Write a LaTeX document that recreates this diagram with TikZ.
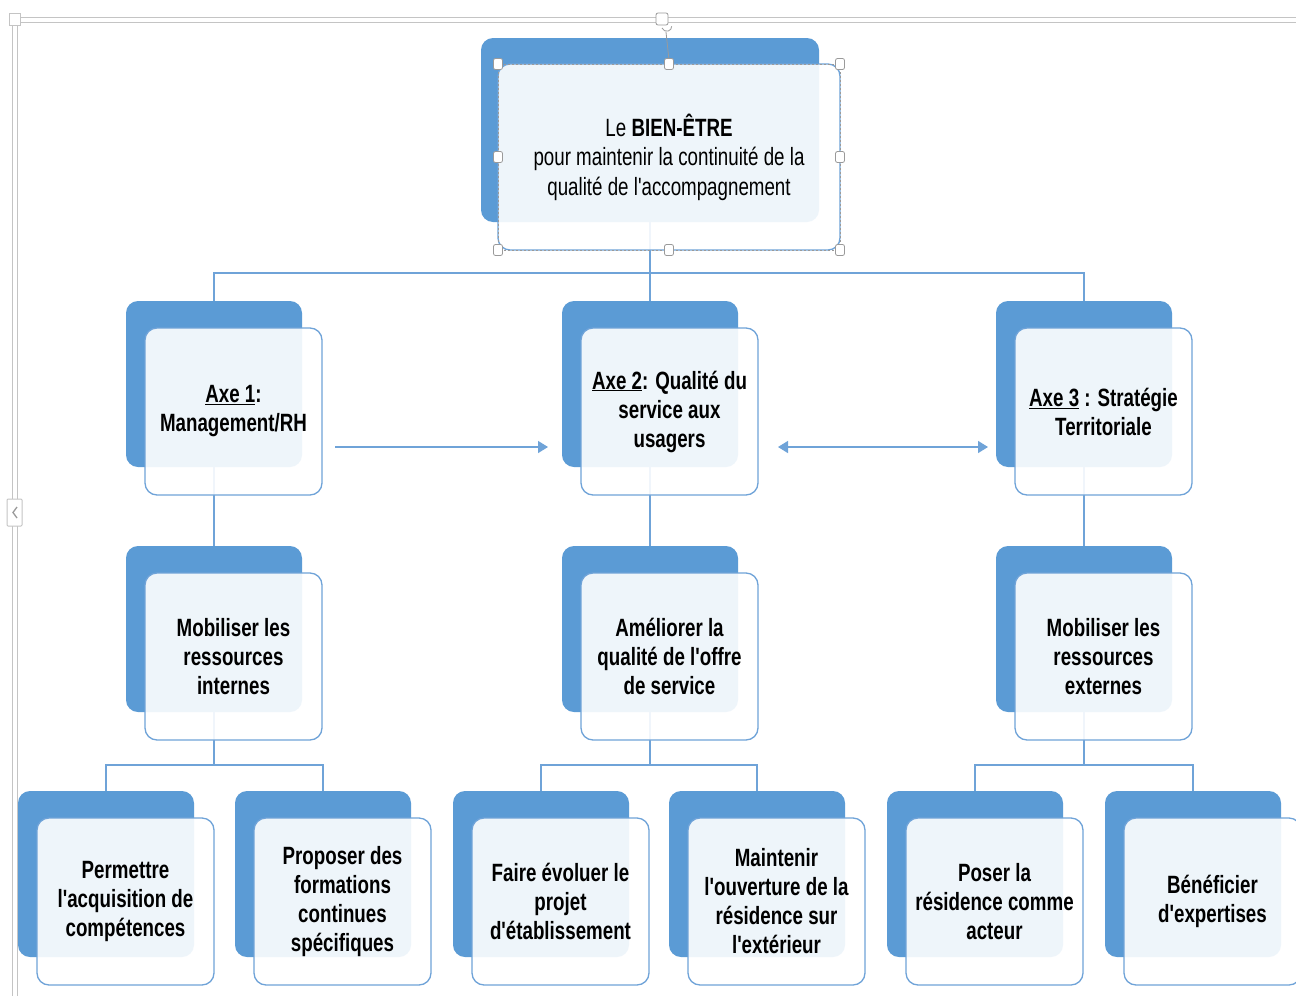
\documentclass[tikz,border=0pt]{standalone}
\usepackage{fontspec}
\newfontfamily\boxfont[FakeStretch=0.75]{Liberation Sans}
\usetikzlibrary{arrows.meta}
\definecolor{backblue}{HTML}{5B9BD5}
\definecolor{lineblue}{HTML}{6FA3D8}
\definecolor{framegray}{HTML}{C4C4C4}
\definecolor{handlegray}{HTML}{9A9A9A}
\pgfdeclarelayer{background}
\pgfsetlayers{background,main}

% one hierarchy item: blue tab behind, translucent text card in front
% #1 name suffix, #2 left of tab, #3 top of tab, #4 text
\newcommand\itembox[4]{%
  \node[backbox] (b#1) at (#2+88,#3+83) {};
  \node[frontbox] (f#1) at (#2+107.5,#3+110.5) {#4};}

\begin{document}
\begin{tikzpicture}[x=1pt,y=-1pt,
  backbox/.style={draw=none, fill=backblue, rounded corners=12pt,
    minimum width=176pt, minimum height=166pt, inner sep=0pt},
  frontbox/.style={draw=lineblue, line width=1.3pt, fill=white, fill opacity=0.9,
    text opacity=1, rounded corners=12pt, minimum width=177pt, minimum height=167pt,
    inner sep=0pt, align=center,
    font=\boxfont\bfseries\fontsize{25}{29}\selectfont},
  tree/.style={draw=lineblue, line width=1.4pt},
  arr/.style={tree, -{Triangle[length=10pt,width=12pt]}},
  biarr/.style={tree, {Triangle[length=10pt,width=12pt]}-{Triangle[length=10pt,width=12pt]}},
  chrome/.style={draw=framegray, line width=1pt},
  handle/.style={draw=handlegray, fill=white, line width=0.8pt, rounded corners=2pt},
]
\useasboundingbox (0,0) rectangle (1296,996);

% editor frame
\draw[chrome] (12,17) -- (1296,17);
\draw[chrome] (17,22) -- (1296,22);
\draw[chrome] (12,17) -- (12,996);
\draw[chrome] (17,22) -- (17,996);
\draw[chrome, fill=white] (9,13) rectangle (20,25);
\draw[chrome, fill=white, rounded corners=1pt] (7,499) rectangle (22,526);
\draw[handlegray, line width=1.3pt] (17,507) -- (13,512.5) -- (17,518);

% top item
\node[backbox, minimum width=338pt, minimum height=184pt] (b0) at (650,130) {};
\node[frontbox, minimum width=342pt, minimum height=186pt,
  font=\boxfont\fontsize{25}{29.5}\selectfont] (f0) at (669,157)
  {Le \textbf{BIEN-ÊTRE}\\pour maintenir la continuité de la\\qualité de l'accompagnement};

% axes
\itembox{1}{126}{301}{\underline{Axe 1}:\\Management/RH}
\itembox{2}{562}{301}{\underline{Axe 2}: Qualité du\\service aux\\usagers}
\itembox{3}{996}{301}{\underline{Axe 3} : Stratégie\\Territoriale}

% second level
\itembox{4}{126}{546}{Mobiliser les\\ressources\\internes}
\itembox{5}{562}{546}{Améliorer la\\qualité de l'offre\\de service}
\itembox{6}{996}{546}{Mobiliser les\\ressources\\externes}

% third level
\itembox{7}{18}{791}{Permettre\\l'acquisition de\\compétences}
\itembox{8}{235}{791}{Proposer des\\formations\\continues\\spécifiques}
\itembox{9}{453}{791}{Faire évoluer le\\projet\\d'établissement}
\itembox{10}{669}{791}{Maintenir\\l'ouverture de la\\résidence sur\\l'extérieur}
\itembox{11}{887}{791}{Poser la\\résidence comme\\acteur}
\itembox{12}{1105}{791}{Bénéficier\\d'expertises}

% tree connectors, beneath the cards
\begin{pgfonlayer}{background}
\fill[white] (0,0) rectangle (1296,996);
\draw[tree] (b0.south) -- (b2.north);
\draw[tree] (b0.south |- 0,273) -| (b1.north);
\draw[tree] (b0.south |- 0,273) -| (b3.north);
\draw[tree] (b1.south) -- (b4.north);
\draw[tree] (b2.south) -- (b5.north);
\draw[tree] (b3.south) -- (b6.north);
\draw[tree] (b4.south) -- (b4.south |- 0,765) -| (b7.north);
\draw[tree] (b4.south |- 0,765) -| (b8.north);
\draw[tree] (b5.south) -- (b5.south |- 0,765) -| (b9.north);
\draw[tree] (b5.south |- 0,765) -| (b10.north);
\draw[tree] (b6.south) -- (b6.south |- 0,765) -| (b11.north);
\draw[tree] (b6.south |- 0,765) -| (b12.north);
\end{pgfonlayer}

% links between axes
\coordinate (a1s) at (335,447);
\coordinate (a1e) at (548,447);
\coordinate (a2s) at (778,447);
\coordinate (a2e) at (988,447);
\draw[arr] (a1s) -- (a1e);
\draw[biarr] (a2s) -- (a2e);

% selection frame with handles on the top item
\draw[handlegray, line width=0.7pt, dash pattern=on 2pt off 2pt] (498,64) rectangle (840,250);
\draw[handlegray, line width=0.8pt] (666,32) -- (669,60);
\draw[handle] (656,13) rectangle (668,25);
\draw[handlegray, line width=0.8pt] (662,28) arc[start angle=200, end angle=360, radius=5pt];
\foreach \hx/\hy in {498/64, 669/64, 840/64, 498/157, 840/157, 498/250, 669/250, 840/250}
  \draw[handle] (\hx-4.5,\hy-5.5) rectangle (\hx+4.5,\hy+5.5);
\end{tikzpicture}
\end{document}
